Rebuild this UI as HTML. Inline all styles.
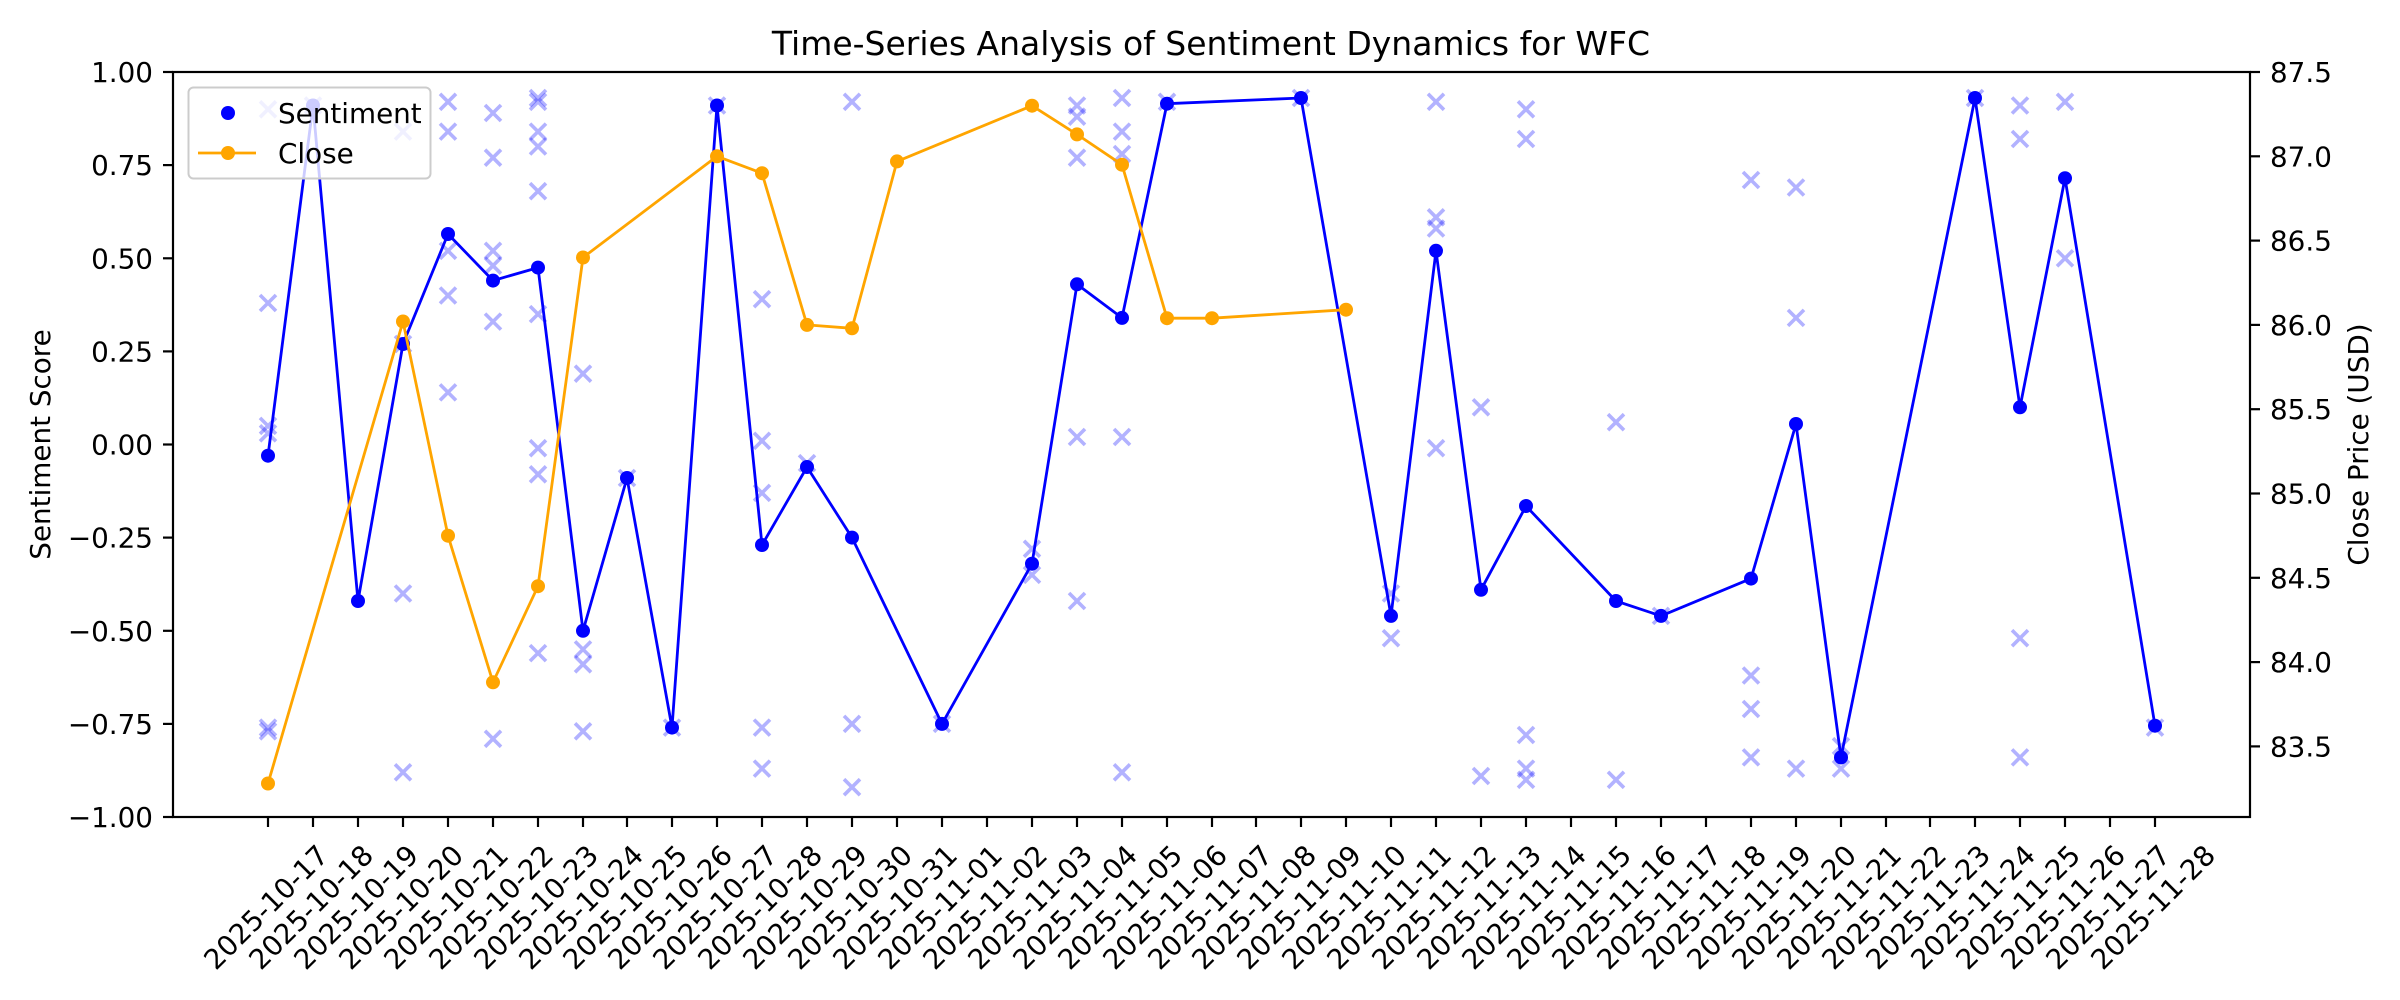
<!DOCTYPE html>
<html><head><meta charset="utf-8"><style>
html,body{margin:0;padding:0;background:#fff;}
svg{display:block;font-family:"DejaVu Sans","Liberation Sans",sans-serif;}
</style></head><body>
<svg width="2400" height="1000" viewBox="0 0 2400 1000" xmlns="http://www.w3.org/2000/svg">
<defs><path id="m" d="M-8,-8L8,8M8,-8L-8,8" stroke="rgba(0,0,255,0.3)" stroke-width="3.6" fill="none"/></defs>
<rect width="2400" height="1000" fill="#fff"/>
<text x="1211" y="55" font-size="33" text-anchor="middle">Time-Series Analysis of Sentiment Dynamics for WFC</text>

<g>
<use href="#m" x="268" y="109.3"/><use href="#m" x="268" y="303"/><use href="#m" x="268" y="425.9"/><use href="#m" x="268" y="433.3"/><use href="#m" x="268" y="727.6"/><use href="#m" x="268" y="731.3"/>
<use href="#m" x="313" y="105.5"/>
<use href="#m" x="403" y="131.6"/><use href="#m" x="403" y="344"/><use href="#m" x="403" y="593.5"/><use href="#m" x="403" y="772.3"/>
<use href="#m" x="448" y="101.8"/><use href="#m" x="448" y="131.6"/><use href="#m" x="448" y="250.8"/><use href="#m" x="448" y="295.5"/><use href="#m" x="448" y="392.4"/>
<use href="#m" x="493" y="113"/><use href="#m" x="493" y="157.7"/><use href="#m" x="493" y="250.8"/><use href="#m" x="493" y="265.7"/><use href="#m" x="493" y="321.6"/><use href="#m" x="493" y="738.8"/>
<use href="#m" x="538" y="98"/><use href="#m" x="538" y="101.8"/><use href="#m" x="538" y="131.6"/><use href="#m" x="538" y="146.5"/><use href="#m" x="538" y="191.2"/><use href="#m" x="538" y="314.1"/><use href="#m" x="538" y="448.2"/><use href="#m" x="538" y="474.3"/><use href="#m" x="538" y="653.1"/>
<use href="#m" x="583" y="373.7"/><use href="#m" x="583" y="649.4"/><use href="#m" x="583" y="664.3"/><use href="#m" x="583" y="731.3"/>
<use href="#m" x="627" y="478"/>
<use href="#m" x="672" y="727.6"/>
<use href="#m" x="717" y="105.5"/>
<use href="#m" x="762" y="299.2"/><use href="#m" x="762" y="440.8"/><use href="#m" x="762" y="492.9"/><use href="#m" x="762" y="727.6"/><use href="#m" x="762" y="768.6"/>
<use href="#m" x="807" y="463.1"/>
<use href="#m" x="852" y="101.8"/><use href="#m" x="852" y="723.9"/><use href="#m" x="852" y="787.2"/>
<use href="#m" x="942" y="723.9"/>
<use href="#m" x="1032" y="548.8"/><use href="#m" x="1032" y="574.9"/>
<use href="#m" x="1077" y="105.5"/><use href="#m" x="1077" y="116.7"/><use href="#m" x="1077" y="157.7"/><use href="#m" x="1077" y="437"/><use href="#m" x="1077" y="601"/>
<use href="#m" x="1122" y="98"/><use href="#m" x="1122" y="131.6"/><use href="#m" x="1122" y="154"/><use href="#m" x="1122" y="437"/><use href="#m" x="1122" y="772.3"/>
<use href="#m" x="1167" y="101.8"/>
<use href="#m" x="1301" y="98"/>
<use href="#m" x="1391" y="593.5"/><use href="#m" x="1391" y="638.2"/>
<use href="#m" x="1436" y="101.8"/><use href="#m" x="1436" y="217.3"/><use href="#m" x="1436" y="228.5"/><use href="#m" x="1436" y="448.2"/>
<use href="#m" x="1481" y="407.3"/><use href="#m" x="1481" y="776"/>
<use href="#m" x="1526" y="109.3"/><use href="#m" x="1526" y="139"/><use href="#m" x="1526" y="735"/><use href="#m" x="1526" y="768.6"/><use href="#m" x="1526" y="779.8"/>
<use href="#m" x="1616" y="422.2"/><use href="#m" x="1616" y="779.8"/>
<use href="#m" x="1661" y="615.9"/>
<use href="#m" x="1751" y="180"/><use href="#m" x="1751" y="675.5"/><use href="#m" x="1751" y="709"/><use href="#m" x="1751" y="757.4"/>
<use href="#m" x="1796" y="187.5"/><use href="#m" x="1796" y="317.9"/><use href="#m" x="1796" y="768.6"/>
<use href="#m" x="1841" y="746.2"/><use href="#m" x="1841" y="768.6"/>
<use href="#m" x="1975" y="98"/>
<use href="#m" x="2020" y="105.5"/><use href="#m" x="2020" y="139"/><use href="#m" x="2020" y="638.2"/><use href="#m" x="2020" y="757.4"/>
<use href="#m" x="2065" y="101.8"/><use href="#m" x="2065" y="258.3"/>
<use href="#m" x="2155" y="727.6"/>
</g>

<polyline fill="none" stroke="#0000ff" stroke-width="2.8" stroke-linejoin="round" points="268,455.7 313,105.5 358,601 403,344 448,234 493,280.6 538,267.6 583,630.8 627,478 672,727.6 717,105.5 762,545 807,467 852,537.6 942,723.9 1032,563.7 1077,284.3 1122,317.9 1167,103.7 1301,98 1391,615.9 1436,250.8 1481,589.8 1526,506 1616,601 1661,615.9 1751,578.6 1796,424 1841,757.4 1975,98 2020,407.3 2065,178.2 2155,725.7"/>
<g fill="#0000ff">
<circle cx="268" cy="455.7" r="7"/><circle cx="313" cy="105.5" r="7"/><circle cx="358" cy="601" r="7"/><circle cx="403" cy="344" r="7"/><circle cx="448" cy="234" r="7"/><circle cx="493" cy="280.6" r="7"/><circle cx="538" cy="267.6" r="7"/><circle cx="583" cy="630.8" r="7"/><circle cx="627" cy="478" r="7"/><circle cx="672" cy="727.6" r="7"/><circle cx="717" cy="105.5" r="7"/><circle cx="762" cy="545" r="7"/><circle cx="807" cy="467" r="7"/><circle cx="852" cy="537.6" r="7"/><circle cx="942" cy="723.9" r="7"/><circle cx="1032" cy="563.7" r="7"/><circle cx="1077" cy="284.3" r="7"/><circle cx="1122" cy="317.9" r="7"/><circle cx="1167" cy="103.7" r="7"/><circle cx="1301" cy="98" r="7"/><circle cx="1391" cy="615.9" r="7"/><circle cx="1436" cy="250.8" r="7"/><circle cx="1481" cy="589.8" r="7"/><circle cx="1526" cy="506" r="7"/><circle cx="1616" cy="601" r="7"/><circle cx="1661" cy="615.9" r="7"/><circle cx="1751" cy="578.6" r="7"/><circle cx="1796" cy="424" r="7"/><circle cx="1841" cy="757.4" r="7"/><circle cx="1975" cy="98" r="7"/><circle cx="2020" cy="407.3" r="7"/><circle cx="2065" cy="178.2" r="7"/><circle cx="2155" cy="725.7" r="7"/>
</g>

<polyline fill="none" stroke="#ffa500" stroke-width="2.8" stroke-linejoin="round" points="268,783.5 403,321.5 448,535.7 493,682.3 538,586.2 583,257.5 717,156.3 762,173.2 807,324.9 852,328.3 897,161.4 1032,105.7 1077,134.4 1122,164.7 1167,318.2 1212,318.2 1346,309.7"/>
<g fill="#ffa500">
<circle cx="268" cy="783.5" r="7"/><circle cx="403" cy="321.5" r="7"/><circle cx="448" cy="535.7" r="7"/><circle cx="493" cy="682.3" r="7"/><circle cx="538" cy="586.2" r="7"/><circle cx="583" cy="257.5" r="7"/><circle cx="717" cy="156.3" r="7"/><circle cx="762" cy="173.2" r="7"/><circle cx="807" cy="324.9" r="7"/><circle cx="852" cy="328.3" r="7"/><circle cx="897" cy="161.4" r="7"/><circle cx="1032" cy="105.7" r="7"/><circle cx="1077" cy="134.4" r="7"/><circle cx="1122" cy="164.7" r="7"/><circle cx="1167" cy="318.2" r="7"/><circle cx="1212" cy="318.2" r="7"/><circle cx="1346" cy="309.7" r="7"/>
</g>

<rect x="173" y="72" width="2077" height="745" fill="none" stroke="#000" stroke-width="2.2"/>

<g stroke="#000" stroke-width="2.2">
<line x1="163" y1="72" x2="173" y2="72"/><line x1="163" y1="165.1" x2="173" y2="165.1"/><line x1="163" y1="258.3" x2="173" y2="258.3"/><line x1="163" y1="351.4" x2="173" y2="351.4"/><line x1="163" y1="444.5" x2="173" y2="444.5"/><line x1="163" y1="537.6" x2="173" y2="537.6"/><line x1="163" y1="630.8" x2="173" y2="630.8"/><line x1="163" y1="723.9" x2="173" y2="723.9"/><line x1="163" y1="817" x2="173" y2="817"/>
</g>
<g font-size="27.8" text-anchor="end">
<text x="153" y="82">1.00</text><text x="153" y="175.1">0.75</text><text x="153" y="268.3">0.50</text><text x="153" y="361.4">0.25</text><text x="153" y="454.5">0.00</text><text x="153" y="547.6">−0.25</text><text x="153" y="640.8">−0.50</text><text x="153" y="733.9">−0.75</text><text x="153" y="827">−1.00</text>
</g>
<text transform="translate(50,444.5) rotate(-90)" font-size="27.8" text-anchor="middle">Sentiment Score</text>

<g stroke="#000" stroke-width="2.2">
<line x1="2250" y1="72" x2="2260" y2="72"/><line x1="2250" y1="156.3" x2="2260" y2="156.3"/><line x1="2250" y1="240.6" x2="2260" y2="240.6"/><line x1="2250" y1="324.9" x2="2260" y2="324.9"/><line x1="2250" y1="409.2" x2="2260" y2="409.2"/><line x1="2250" y1="493.5" x2="2260" y2="493.5"/><line x1="2250" y1="577.8" x2="2260" y2="577.8"/><line x1="2250" y1="662.1" x2="2260" y2="662.1"/><line x1="2250" y1="746.4" x2="2260" y2="746.4"/>
</g>
<g font-size="27.8">
<text x="2270" y="82">87.5</text><text x="2270" y="166.3">87.0</text><text x="2270" y="250.6">86.5</text><text x="2270" y="334.9">86.0</text><text x="2270" y="419.2">85.5</text><text x="2270" y="503.5">85.0</text><text x="2270" y="587.8">84.5</text><text x="2270" y="672.1">84.0</text><text x="2270" y="756.4">83.5</text>
</g>
<text transform="translate(2368,444.5) rotate(-90)" font-size="27.8" text-anchor="middle">Close Price (USD)</text>

<g stroke="#000" stroke-width="2.2">
<line x1="268" y1="817" x2="268" y2="827"/><line x1="313" y1="817" x2="313" y2="827"/><line x1="358" y1="817" x2="358" y2="827"/><line x1="403" y1="817" x2="403" y2="827"/><line x1="448" y1="817" x2="448" y2="827"/><line x1="493" y1="817" x2="493" y2="827"/><line x1="538" y1="817" x2="538" y2="827"/><line x1="583" y1="817" x2="583" y2="827"/><line x1="627" y1="817" x2="627" y2="827"/><line x1="672" y1="817" x2="672" y2="827"/><line x1="717" y1="817" x2="717" y2="827"/><line x1="762" y1="817" x2="762" y2="827"/><line x1="807" y1="817" x2="807" y2="827"/><line x1="852" y1="817" x2="852" y2="827"/><line x1="897" y1="817" x2="897" y2="827"/><line x1="942" y1="817" x2="942" y2="827"/><line x1="987" y1="817" x2="987" y2="827"/><line x1="1032" y1="817" x2="1032" y2="827"/><line x1="1077" y1="817" x2="1077" y2="827"/><line x1="1122" y1="817" x2="1122" y2="827"/><line x1="1167" y1="817" x2="1167" y2="827"/><line x1="1212" y1="817" x2="1212" y2="827"/><line x1="1256" y1="817" x2="1256" y2="827"/><line x1="1301" y1="817" x2="1301" y2="827"/><line x1="1346" y1="817" x2="1346" y2="827"/><line x1="1391" y1="817" x2="1391" y2="827"/><line x1="1436" y1="817" x2="1436" y2="827"/><line x1="1481" y1="817" x2="1481" y2="827"/><line x1="1526" y1="817" x2="1526" y2="827"/><line x1="1571" y1="817" x2="1571" y2="827"/><line x1="1616" y1="817" x2="1616" y2="827"/><line x1="1661" y1="817" x2="1661" y2="827"/><line x1="1706" y1="817" x2="1706" y2="827"/><line x1="1751" y1="817" x2="1751" y2="827"/><line x1="1796" y1="817" x2="1796" y2="827"/><line x1="1841" y1="817" x2="1841" y2="827"/><line x1="1886" y1="817" x2="1886" y2="827"/><line x1="1930" y1="817" x2="1930" y2="827"/><line x1="1975" y1="817" x2="1975" y2="827"/><line x1="2020" y1="817" x2="2020" y2="827"/><line x1="2065" y1="817" x2="2065" y2="827"/><line x1="2110" y1="817" x2="2110" y2="827"/><line x1="2155" y1="817" x2="2155" y2="827"/>
</g>
<g font-size="27.8" text-anchor="end">
<text transform="translate(330,857) rotate(-45)">2025-10-17</text>
<text transform="translate(375,857) rotate(-45)">2025-10-18</text>
<text transform="translate(420,857) rotate(-45)">2025-10-19</text>
<text transform="translate(465,857) rotate(-45)">2025-10-20</text>
<text transform="translate(510,857) rotate(-45)">2025-10-21</text>
<text transform="translate(555,857) rotate(-45)">2025-10-22</text>
<text transform="translate(600,857) rotate(-45)">2025-10-23</text>
<text transform="translate(645,857) rotate(-45)">2025-10-24</text>
<text transform="translate(689,857) rotate(-45)">2025-10-25</text>
<text transform="translate(734,857) rotate(-45)">2025-10-26</text>
<text transform="translate(779,857) rotate(-45)">2025-10-27</text>
<text transform="translate(824,857) rotate(-45)">2025-10-28</text>
<text transform="translate(869,857) rotate(-45)">2025-10-29</text>
<text transform="translate(914,857) rotate(-45)">2025-10-30</text>
<text transform="translate(959,857) rotate(-45)">2025-10-31</text>
<text transform="translate(1004,857) rotate(-45)">2025-11-01</text>
<text transform="translate(1049,857) rotate(-45)">2025-11-02</text>
<text transform="translate(1094,857) rotate(-45)">2025-11-03</text>
<text transform="translate(1139,857) rotate(-45)">2025-11-04</text>
<text transform="translate(1184,857) rotate(-45)">2025-11-05</text>
<text transform="translate(1229,857) rotate(-45)">2025-11-06</text>
<text transform="translate(1274,857) rotate(-45)">2025-11-07</text>
<text transform="translate(1318,857) rotate(-45)">2025-11-08</text>
<text transform="translate(1363,857) rotate(-45)">2025-11-09</text>
<text transform="translate(1408,857) rotate(-45)">2025-11-10</text>
<text transform="translate(1453,857) rotate(-45)">2025-11-11</text>
<text transform="translate(1498,857) rotate(-45)">2025-11-12</text>
<text transform="translate(1543,857) rotate(-45)">2025-11-13</text>
<text transform="translate(1588,857) rotate(-45)">2025-11-14</text>
<text transform="translate(1633,857) rotate(-45)">2025-11-15</text>
<text transform="translate(1678,857) rotate(-45)">2025-11-16</text>
<text transform="translate(1723,857) rotate(-45)">2025-11-17</text>
<text transform="translate(1768,857) rotate(-45)">2025-11-18</text>
<text transform="translate(1813,857) rotate(-45)">2025-11-19</text>
<text transform="translate(1858,857) rotate(-45)">2025-11-20</text>
<text transform="translate(1903,857) rotate(-45)">2025-11-21</text>
<text transform="translate(1948,857) rotate(-45)">2025-11-22</text>
<text transform="translate(1992,857) rotate(-45)">2025-11-23</text>
<text transform="translate(2037,857) rotate(-45)">2025-11-24</text>
<text transform="translate(2082,857) rotate(-45)">2025-11-25</text>
<text transform="translate(2127,857) rotate(-45)">2025-11-26</text>
<text transform="translate(2172,857) rotate(-45)">2025-11-27</text>
<text transform="translate(2217,857) rotate(-45)">2025-11-28</text>
</g>

<rect x="188.5" y="87.5" width="242" height="91" rx="5" fill="rgba(255,255,255,0.8)" stroke="#cccccc" stroke-width="2"/>
<circle cx="228" cy="113" r="7" fill="#0000ff"/>
<text x="278" y="123" font-size="27.8">Sentiment</text>
<line x1="198" y1="153" x2="256" y2="153" stroke="#ffa500" stroke-width="2.8"/>
<circle cx="228" cy="153" r="7" fill="#ffa500"/>
<text x="278" y="163" font-size="27.8">Close</text>
</svg>
</body></html>
